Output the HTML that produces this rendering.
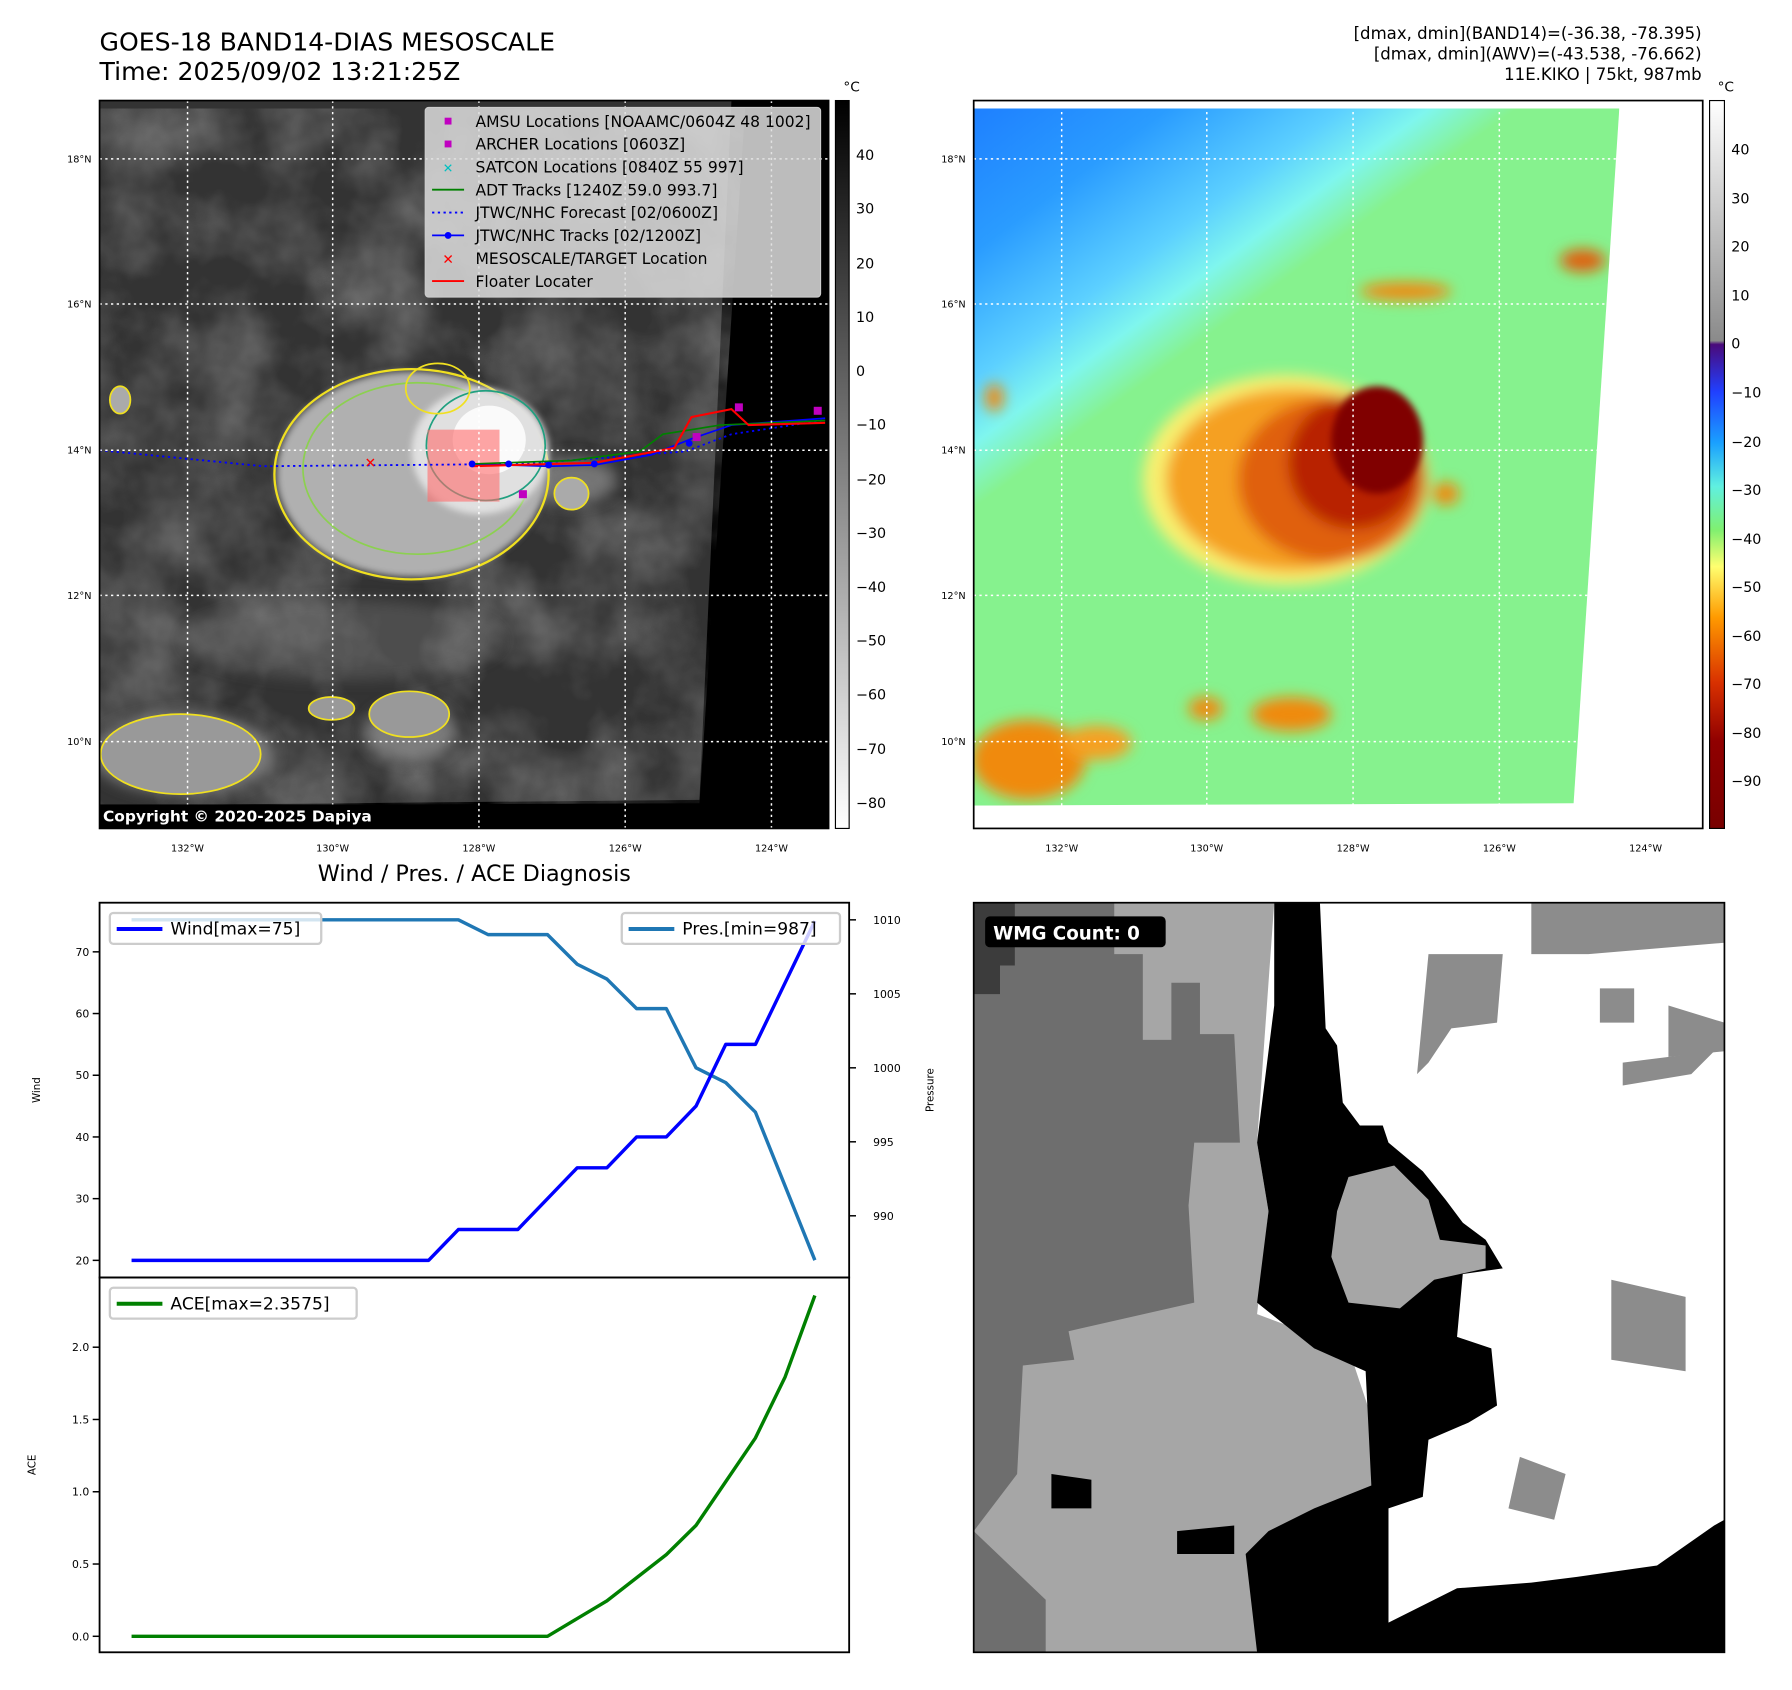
<!DOCTYPE html>
<html><head><meta charset="utf-8"><style>
html,body{margin:0;padding:0;background:#fff}
svg{display:block}
text{font-family:"DejaVu Sans","Liberation Sans",sans-serif}
</style></head><body>
<svg id="root" width="1792" height="1690" viewBox="0 0 1568 1479" xmlns="http://www.w3.org/2000/svg">
<defs>
<filter id="blur6"><feGaussianBlur stdDeviation="6"/></filter>
<filter id="blur3"><feGaussianBlur stdDeviation="3"/></filter>
<filter id="clouds" x="0" y="0" width="1" height="1"><feTurbulence type="fractalNoise" baseFrequency="0.014" numOctaves="4" seed="3"/><feColorMatrix type="matrix" values="0 0 0 0 0.75  0 0 0 0 0.75  0 0 0 0 0.75  1.3 0 0 0 -0.45"/></filter>
<linearGradient id="cbGray" x1="0" y1="0" x2="0" y2="1"><stop offset="0" stop-color="#000"/><stop offset="1" stop-color="#fff"/></linearGradient>
<linearGradient id="cbColor" x1="0" y1="0" x2="0" y2="1">
<stop offset="0" stop-color="#ffffff"/><stop offset="0.33" stop-color="#8a8a8a"/><stop offset="0.335" stop-color="#4a0a7a"/>
<stop offset="0.4" stop-color="#2040ff"/><stop offset="0.47" stop-color="#1aa0ff"/><stop offset="0.53" stop-color="#60f0e0"/>
<stop offset="0.59" stop-color="#80f070"/><stop offset="0.64" stop-color="#ffff70"/><stop offset="0.71" stop-color="#ff9a00"/>
<stop offset="0.8" stop-color="#d83000"/><stop offset="0.88" stop-color="#900000"/><stop offset="1" stop-color="#780000"/></linearGradient>
<linearGradient id="bgR" x1="852" y1="95" x2="1150" y2="500" gradientUnits="userSpaceOnUse">
<stop offset="0" stop-color="#1e80ff"/><stop offset="0.2" stop-color="#2a9cff"/><stop offset="0.38" stop-color="#5cd0ff"/><stop offset="0.47" stop-color="#7ff6ee"/><stop offset="0.56" stop-color="#86f28e"/><stop offset="1" stop-color="#86f28e"/></linearGradient>
<clipPath id="clipL"><rect x="87" y="88" width="638" height="637"/></clipPath>
<clipPath id="clipR"><polygon points="852,95 1417,95 1377,703 852,705"/></clipPath>
</defs>

<!-- Titles -->
<text x="87" y="44" font-size="22">GOES-18 BAND14-DIAS MESOSCALE</text>
<text x="87" y="70" font-size="22">Time: 2025/09/02 13:21:25Z</text>
<g font-size="14.5" text-anchor="end">
<text x="1489" y="34">[dmax, dmin](BAND14)=(-36.38, -78.395)</text>
<text x="1489" y="52">[dmax, dmin](AWV)=(-43.538, -76.662)</text>
<text x="1489" y="70">11E.KIKO | 75kt, 987mb</text>
</g>

<!-- LEFT MAP -->
<g clip-path="url(#clipL)">
<rect x="87" y="88" width="638" height="637" fill="#000"/>
<polygon points="87,88 640,88 612,700 87,705" fill="#333"/>
<g clip-path="url(#clipR)" transform="translate(-765,0)"><rect x="852" y="88" width="565" height="620" filter="url(#clouds)" opacity="0.45"/></g>
<g filter="url(#blur6)" fill="#8a8a8a">
<ellipse cx="300" cy="560" rx="140" ry="35" opacity="0.3"/>
<ellipse cx="160" cy="660" rx="80" ry="35" opacity="0.8"/>
<ellipse cx="360" cy="640" rx="40" ry="25" opacity="0.8"/>
<ellipse cx="500" cy="420" rx="40" ry="20" opacity="0.7"/>
</g>
<ellipse cx="360" cy="415" rx="118" ry="90" fill="#b0b0b0" filter="url(#blur3)"/>
<ellipse cx="360" cy="415" rx="120" ry="92" fill="none" stroke="#f0e020" stroke-width="2"/>
<ellipse cx="365" cy="410" rx="100" ry="75" fill="none" stroke="#8cd050" stroke-width="1.5"/>
<ellipse cx="420" cy="395" rx="60" ry="55" fill="#e0e0e0" filter="url(#blur3)"/>
<ellipse cx="425" cy="390" rx="52" ry="48" fill="none" stroke="#20a080" stroke-width="1.5"/>
<ellipse cx="428" cy="385" rx="32" ry="30" fill="#fafafa"/>
<ellipse cx="383" cy="340" rx="28" ry="22" fill="none" stroke="#f0e020" stroke-width="1.5"/>
<ellipse cx="105" cy="350" rx="9" ry="12" fill="#aaa" stroke="#f0e020" stroke-width="1.5"/>
<ellipse cx="158" cy="660" rx="70" ry="35" fill="#999" stroke="#f0e020" stroke-width="1.5"/>
<ellipse cx="358" cy="625" rx="35" ry="20" fill="#999" stroke="#f0e020" stroke-width="1.5"/>
<ellipse cx="290" cy="620" rx="20" ry="10" fill="#999" stroke="#f0e020" stroke-width="1.5"/>
<ellipse cx="500" cy="432" rx="15" ry="14" fill="#aaa" stroke="#f0e020" stroke-width="1.5"/>
<rect x="374" y="376" width="63" height="63" fill="#ff6a6a" opacity="0.6"/>
<polyline points="87,394 230,408 460,406 600,395 640,380 720,368" fill="none" stroke="#00f" stroke-width="1.6" stroke-dasharray="2,3"/>
<polyline points="413,406 480,408 520,407 570,398 605,384 640,372 722,366" fill="none" stroke="#00f" stroke-width="1.5"/>
<polyline points="413,406 500,403 560,395 580,380 630,372 722,368" fill="none" stroke="#008000" stroke-width="1.5"/>
<polyline points="413,408 520,405 590,392 605,365 640,358 655,372 722,370" fill="none" stroke="#f00" stroke-width="1.8"/>
<g fill="#00f"><circle cx="413" cy="406" r="3"/><circle cx="445" cy="406" r="3"/><circle cx="480" cy="407" r="3"/><circle cx="520" cy="406" r="3"/><circle cx="603" cy="388" r="3"/></g>
<g fill="#c000c0"><rect x="643" y="353" width="7" height="7"/><rect x="712" y="356" width="7" height="7"/><rect x="454" y="429" width="7" height="7"/><rect x="606" y="379" width="7" height="7"/></g>
<text x="324" y="409" fill="#f00" font-size="12" text-anchor="middle">✕</text>
<g stroke="#fff" stroke-width="1.3" stroke-dasharray="2,3">
<line x1="164" y1="88" x2="164" y2="725"/><line x1="291" y1="88" x2="291" y2="725"/><line x1="419" y1="88" x2="419" y2="725"/><line x1="547" y1="88" x2="547" y2="725"/><line x1="675" y1="88" x2="675" y2="725"/>
<line x1="87" y1="139" x2="725" y2="139"/><line x1="87" y1="266" x2="725" y2="266"/><line x1="87" y1="394" x2="725" y2="394"/><line x1="87" y1="521" x2="725" y2="521"/><line x1="87" y1="649" x2="725" y2="649"/>
</g>
<g>
<rect x="372" y="94" width="346" height="166" rx="3" fill="#ddd" fill-opacity="0.85" stroke="#ccc"/>
<g font-size="13.6" fill="#000">
<rect x="389" y="103" width="6" height="6" fill="#c000c0"/><text x="416" y="111">AMSU Locations [NOAAMC/0604Z 48 1002]</text>
<rect x="389" y="123" width="6" height="6" fill="#c000c0"/><text x="416" y="131">ARCHER Locations [0603Z]</text>
<text x="392" y="151" fill="#00c0c0" text-anchor="middle" font-size="11">✕</text><text x="416" y="151">SATCON Locations [0840Z 55 997]</text>
<line x1="378" y1="166" x2="406" y2="166" stroke="#008000" stroke-width="1.6"/><text x="416" y="171">ADT Tracks [1240Z 59.0 993.7]</text>
<line x1="378" y1="186" x2="406" y2="186" stroke="#00f" stroke-width="1.6" stroke-dasharray="2,3"/><text x="416" y="191">JTWC/NHC Forecast [02/0600Z]</text>
<line x1="378" y1="206" x2="406" y2="206" stroke="#00f" stroke-width="1.6"/><circle cx="392" cy="206" r="3" fill="#00f"/><text x="416" y="211">JTWC/NHC Tracks [02/1200Z]</text>
<text x="392" y="231" fill="#f00" text-anchor="middle" font-size="12">✕</text><text x="416" y="231">MESOSCALE/TARGET Location</text>
<line x1="378" y1="246" x2="406" y2="246" stroke="#f00" stroke-width="1.6"/><text x="416" y="251">Floater Locater</text>
</g></g>
<rect x="87" y="704" width="270" height="21" fill="#000"/>
<text x="90" y="719" fill="#fff" font-size="13.5" font-weight="bold">Copyright © 2020-2025 Dapiya</text>
</g>
<rect x="87" y="88" width="638" height="637" fill="none" stroke="#000" stroke-width="1.5"/>
<g font-size="8.5">
<g text-anchor="middle"><text x="164" y="745">132°W</text><text x="291" y="745">130°W</text><text x="419" y="745">128°W</text><text x="547" y="745">126°W</text><text x="675" y="745">124°W</text></g>
<g text-anchor="end"><text x="80" y="142">18°N</text><text x="80" y="269">16°N</text><text x="80" y="397">14°N</text><text x="80" y="524">12°N</text><text x="80" y="652">10°N</text></g>
</g>
<rect x="731" y="88" width="12" height="637" fill="url(#cbGray)" stroke="#000" stroke-width="1"/>
<text x="738" y="80" font-size="12">°C</text>
<g font-size="12.5">
<text x="749" y="140">40</text><text x="749" y="187">30</text><text x="749" y="235">20</text><text x="749" y="282">10</text><text x="749" y="329">0</text><text x="749" y="376">−10</text><text x="749" y="424">−20</text><text x="749" y="471">−30</text><text x="749" y="518">−40</text><text x="749" y="565">−50</text><text x="749" y="612">−60</text><text x="749" y="660">−70</text><text x="749" y="707">−80</text>
</g>

<!-- RIGHT MAP -->
<g>
<rect x="852" y="88" width="638" height="637" fill="#fff"/>
<g clip-path="url(#clipR)">
<rect x="852" y="88" width="638" height="637" fill="url(#bgR)"/>
<g filter="url(#blur6)">
<ellipse cx="1125" cy="420" rx="125" ry="92" fill="#f8f070"/>
<ellipse cx="1130" cy="420" rx="110" ry="80" fill="#f5a020"/>
<ellipse cx="1165" cy="420" rx="82" ry="72" fill="#e06010"/>
<ellipse cx="1185" cy="405" rx="58" ry="58" fill="#b82000"/>
<ellipse cx="900" cy="665" rx="50" ry="35" fill="#f08a10"/>
<ellipse cx="960" cy="650" rx="30" ry="15" fill="#f5a020"/>
<ellipse cx="1130" cy="625" rx="35" ry="15" fill="#f08a10"/>
<ellipse cx="1055" cy="620" rx="15" ry="10" fill="#f08a10"/>
<ellipse cx="1230" cy="255" rx="40" ry="8" fill="#f08a10"/>
<ellipse cx="1385" cy="228" rx="20" ry="10" fill="#e06010"/>
<ellipse cx="870" cy="348" rx="8" ry="12" fill="#f08a10"/>
<ellipse cx="1265" cy="432" rx="12" ry="10" fill="#f08a10"/>
</g>
<ellipse cx="1205" cy="385" rx="40" ry="47" fill="#800000" filter="url(#blur3)"/>
</g>
<g stroke="#fff" stroke-width="1.3" stroke-dasharray="2,3">
<line x1="929" y1="88" x2="929" y2="725"/><line x1="1056" y1="88" x2="1056" y2="725"/><line x1="1184" y1="88" x2="1184" y2="725"/><line x1="1312" y1="88" x2="1312" y2="725"/><line x1="1440" y1="88" x2="1440" y2="725"/>
<line x1="852" y1="139" x2="1490" y2="139"/><line x1="852" y1="266" x2="1490" y2="266"/><line x1="852" y1="394" x2="1490" y2="394"/><line x1="852" y1="521" x2="1490" y2="521"/><line x1="852" y1="649" x2="1490" y2="649"/>
</g>
</g>
<rect x="852" y="88" width="638" height="637" fill="none" stroke="#000" stroke-width="1.5"/>
<g font-size="8.5">
<g text-anchor="middle"><text x="929" y="745">132°W</text><text x="1056" y="745">130°W</text><text x="1184" y="745">128°W</text><text x="1312" y="745">126°W</text><text x="1440" y="745">124°W</text></g>
<g text-anchor="end"><text x="845" y="142">18°N</text><text x="845" y="269">16°N</text><text x="845" y="397">14°N</text><text x="845" y="524">12°N</text><text x="845" y="652">10°N</text></g>
</g>
<rect x="1496" y="88" width="13" height="637" fill="url(#cbColor)" stroke="#000" stroke-width="1"/>
<text x="1503" y="80" font-size="12">°C</text>
<g font-size="12.5">
<text x="1515" y="135">40</text><text x="1515" y="178">30</text><text x="1515" y="220">20</text><text x="1515" y="263">10</text><text x="1515" y="305">0</text><text x="1515" y="348">−10</text><text x="1515" y="391">−20</text><text x="1515" y="433">−30</text><text x="1515" y="476">−40</text><text x="1515" y="518">−50</text><text x="1515" y="561">−60</text><text x="1515" y="603">−70</text><text x="1515" y="646">−80</text><text x="1515" y="688">−90</text>
</g>

<!-- WMG panel -->
<g>
<rect x="852" y="790" width="657" height="656" fill="#fff"/>
<polygon points="852,790 1115,790 1100,1000 1110,1060 1100,1150 1180,1180 1200,1240 1210,1290 1215,1446 852,1446" fill="#a6a6a6"/>
<polygon points="852,790 975,790 975,835 1000,835 1000,910 1025,910 1025,860 1050,860 1050,905 1080,905 1085,1000 1045,1000 1040,1055 1045,1140 935,1165 940,1190 895,1195 890,1290 852,1340" fill="#6e6e6e"/>
<polygon points="852,1340 915,1400 915,1446 852,1446" fill="#6e6e6e"/>
<polygon points="852,790 888,790 888,845 875,845 875,870 852,870" fill="#3c3c3c"/>
<polygon points="1115,790 1155,790 1160,900 1170,915 1175,965 1190,985 1210,985 1215,1000 1245,1025 1265,1050 1280,1070 1300,1085 1315,1110 1280,1115 1275,1170 1305,1180 1310,1230 1285,1245 1250,1260 1245,1310 1215,1320 1215,1420 1275,1390 1340,1385 1380,1380 1450,1370 1500,1335 1509,1330 1509,1446 1100,1446 1090,1360 1110,1340 1150,1320 1200,1300 1195,1200 1150,1180 1100,1140 1110,1060 1100,1000 1115,880" fill="#000"/>
<polygon points="1180,1030 1220,1020 1250,1050 1260,1085 1300,1090 1300,1110 1255,1120 1225,1145 1180,1140 1165,1100 1170,1060" fill="#a6a6a6"/>
<polygon points="1030,1340 1080,1335 1080,1360 1030,1360" fill="#000"/>
<polygon points="920,1290 955,1295 955,1320 920,1320" fill="#000"/>
<g fill="#8c8c8c">
<polygon points="1340,790 1509,790 1509,825 1390,835 1340,835"/>
<polygon points="1250,835 1315,835 1310,895 1270,900 1250,930 1240,940"/>
<polygon points="1410,1120 1475,1135 1475,1200 1410,1190"/>
<polygon points="1330,1275 1370,1290 1360,1330 1320,1320"/>
<polygon points="1420,930 1500,920 1480,940 1420,950"/>
<polygon points="1460,880 1509,895 1509,920 1460,925"/>
<polygon points="1400,865 1430,865 1430,895 1400,895"/>
</g>
<rect x="862" y="802" width="158" height="27" rx="4" fill="#000"/>
<text x="869" y="822" font-size="16" font-weight="bold" fill="#fff">WMG Count: 0</text>
</g>
<rect x="852" y="790" width="657" height="656" fill="none" stroke="#000" stroke-width="1.5"/>

<!-- CHART -->
<text x="415" y="771" font-size="19.5" text-anchor="middle">Wind / Pres. / ACE Diagnosis</text>
<g id="chart"></g>
</svg>
<script>
const timeIndex = [0,1,2,3,4,5,6,7,8,9,10,11,12,13,14,15,16,17,18,19,20,21,22,23];
const windValues = [20,20,20,20,20,20,20,20,20,20,20,25,25,25,30,35,35,40,40,45,55,55,65,75];
const pressureValues = [1010,1010,1010,1010,1010,1010,1010,1010,1010,1010,1010,1010,1009,1009,1009,1007,1006,1004,1004,1000,999,997,992,987];
const aceValues = [0,0,0,0,0,0,0,0,0,0,0,0,0,0,0,0.1225,0.245,0.405,0.565,0.7675,1.07,1.3725,1.795,2.3575];
const windTicks = [20,30,40,50,60,70];
const pressureTicks = [990,995,1000,1005,1010];
const aceTicks = [0.0,0.5,1.0,1.5,2.0];

const NS='http://www.w3.org/2000/svg';
const g=document.getElementById('chart');
const L=87,R=743,T1=790,B1=1118,T2=1118,B2=1446;
const xS=i=>115+(i-timeIndex[0])*(713-115)/(timeIndex.length-1);
const wS=v=>1103-(v-20)*(1103-833)/50;
const pS=p=>805+(1010-p)*(1064-805)/20;
const aS=a=>1432-a*(1432-1179)/2;
function mk(tag,attrs,parent){const e=document.createElementNS(NS,tag);for(const k in attrs)e.setAttribute(k,attrs[k]);(parent||g).appendChild(e);return e;}
function line(vals,sc,color,name){
  const p=mk('polyline',{points:vals.map((v,i)=>xS(i)+','+sc(v)).join(' '),fill:'none',stroke:color,'stroke-width':3,'stroke-linejoin':'round'});
  
  
}
function tick(x1,x2,y,label,anchor,tx,name){
  mk('line',{x1:x1,x2:x2,y1:y,y2:y,stroke:'#000','stroke-width':1.3});
  const t=mk('text',{x:tx,y:y+3.5,'font-size':9.5,'text-anchor':anchor});
  t.textContent=label;
  
  
}
windTicks.forEach(v=>tick(L-6,L,wS(v),String(v),'end',L-9,'wind-tick-label'));
pressureTicks.forEach(v=>tick(R,R+6,pS(v),String(v),'start',R+21,'pressure-tick-label'));
aceTicks.forEach(v=>tick(L-6,L,aS(v),v.toFixed(1),'end',L-9,'ace-tick-label'));
let t;
t=mk('text',{x:0,y:0,'font-size':9,'text-anchor':'middle',transform:'translate(35,954) rotate(-90)'});t.textContent='Wind';


t=mk('text',{x:0,y:0,'font-size':9,'text-anchor':'middle',transform:'translate(817,954) rotate(-90)'});t.textContent='Pressure';


t=mk('text',{x:0,y:0,'font-size':9,'text-anchor':'middle',transform:'translate(31,1282) rotate(-90)'});t.textContent='ACE';


line(pressureValues,pS,'#1f77b4','pressure-line');
line(windValues,wS,'#0000ff','wind-line');
line(aceValues,aS,'#008000','ace-line');
function legend(x,y,w,color,label,name){
  const r=mk('rect',{x:x,y:y,width:w,height:27,rx:3,fill:'#fff','fill-opacity':0.8,stroke:'#ccc','stroke-width':2});
  
  
  mk('line',{x1:x+6,x2:x+46,y1:y+14,y2:y+14,stroke:color,'stroke-width':3.5});
  const tt=mk('text',{x:x+53,y:y+19,'font-size':15});tt.textContent=label;
}
legend(96,799,185,'#0000ff','Wind[max=75]','wind-legend');
legend(544,799,191,'#1f77b4','Pres.[min=987]','pressure-legend');
legend(96,1127,216,'#008000','ACE[max=2.3575]','ace-legend');
mk('rect',{x:L,y:T1,width:R-L,height:B1-T1,fill:'none',stroke:'#000','stroke-width':1.6});
mk('rect',{x:L,y:T2,width:R-L,height:B2-T2,fill:'none',stroke:'#000','stroke-width':1.6});
</script>
</body></html>
